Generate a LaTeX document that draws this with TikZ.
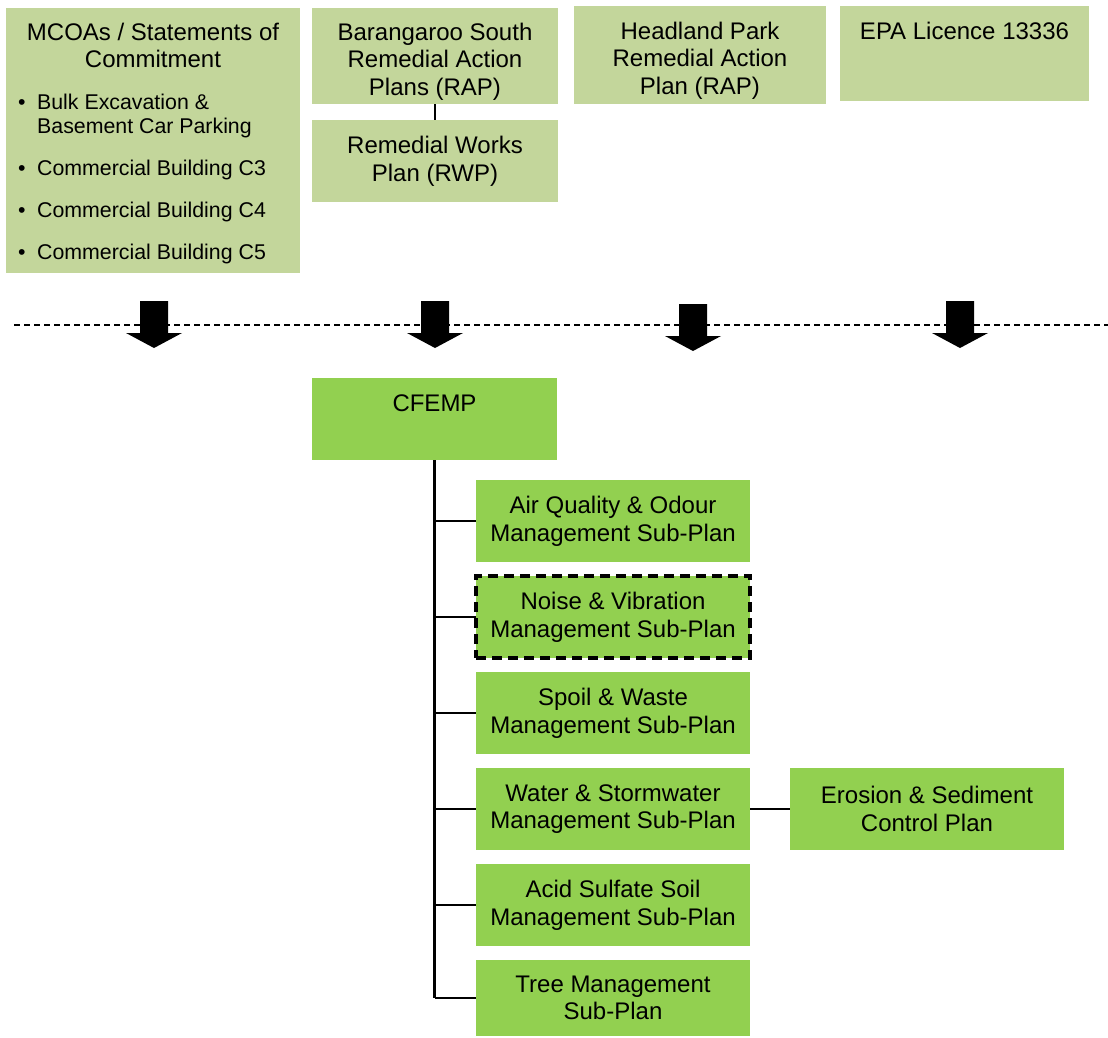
\documentclass[tikz,border=0pt]{standalone}
\usepackage{fontspec}
\setmainfont{Liberation Sans}
\usetikzlibrary{positioning}

\definecolor{topgreen}{RGB}{195,214,155}
\definecolor{plangreen}{RGB}{146,208,80}

\tikzset{
  topbox/.style={fill=topgreen, inner sep=0pt, align=center},
  planbox/.style={fill=plangreen, inner sep=0pt, outer sep=0pt, align=center,
    minimum width=274pt, minimum height=82pt},
  boxtext/.style={anchor=north, inner sep=0pt, align=center},
  link/.style={line width=2pt},
  trunk/.style={line width=3pt},
  sepline/.style={line width=2pt, dash pattern=on 6pt off 4pt},
  dashbox/.style={draw, line width=3.5pt, dash pattern=on 10pt off 6pt},
}

\begin{document}
\begin{tikzpicture}[x=1pt, y=-1pt, font=\fontsize{24}{27.6}\selectfont]
\useasboundingbox (0,0) rectangle (1108,1037);

% source documents
\node[topbox, minimum width=294pt, minimum height=265pt] (mcoa) at (153,140.5) {};
\node[boxtext] (mcoa-title) at (153,22.5) {MCOAs / Statements of\\Commitment};
\node[anchor=base west, inner sep=0pt, font=\fontsize{21.33}{24.5}\selectfont] (mcoa-list) at (18,109)
  {\begin{tabular}[t]{@{}l@{\hspace{11.5pt}}l@{}}
   \textbullet & Bulk Excavation \& \\
               & Basement Car Parking \\[17.5pt]
   \textbullet & Commercial Building C3 \\[17.5pt]
   \textbullet & Commercial Building C4 \\[17.5pt]
   \textbullet & Commercial Building C5
   \end{tabular}};

\node[topbox, minimum width=246pt, minimum height=96pt] (bsrap) at (435,56) {};
\node[boxtext] (bsrap-t) at (435,22.5) {Barangaroo South\\Remedial Action\\Plans (RAP)};
\node[topbox, minimum width=246pt, minimum height=82pt] (rwp) at (435,161) {Remedial Works\\Plan (RWP)};
\draw[link] (bsrap) -- (rwp);

\node[topbox, minimum width=252pt, minimum height=98pt] (hprap) at (700,55) {};
\node[boxtext] (hprap-t) at (700,21.5) {Headland Park\\Remedial Action\\Plan (RAP)};

\node[topbox, minimum width=249pt, minimum height=95pt] (epa) at (964.5,53.5) {};
\node[boxtext] (epa-t) at (964.5,21.5) {EPA Licence 13336};

% boundary and block arrows
\coordinate (sep-l) at (14,325);
\coordinate (sep-r) at (1108,325);
\draw[sepline] (sep-l) -- (sep-r);
\foreach \ax/\ay in {154/301, 435/301, 693/304, 960/301}
  \fill (\ax-14,\ay) -- (\ax+14,\ay) -- (\ax+14,\ay+32) -- (\ax+28,\ay+32)
    -- (\ax,\ay+47) -- (\ax-28,\ay+32) -- (\ax-14,\ay+32) -- cycle;

% CFEMP and sub-plans
\node[planbox, minimum width=245pt] (cfemp) at (434.5,419) {};
\node[boxtext] (cfemp-t) at (434.5,394.5) {CFEMP};

\node[planbox] (air) at (613,521) {Air Quality \& Odour\\Management Sub-Plan};
\node[planbox, dashbox, below=14pt of air] (noise) {Noise \& Vibration\\Management Sub-Plan};
\node[planbox, below=14pt of noise] (spoil) {Spoil \& Waste\\Management Sub-Plan};
\node[planbox, below=14pt of spoil] (water) {Water \& Stormwater\\Management Sub-Plan};
\node[planbox, below=14pt of water] (acid) {Acid Sulfate Soil\\Management Sub-Plan};
\node[planbox, minimum height=76pt, below=14pt of acid] (tree) {Tree Management\\Sub-Plan};
\node[planbox, right=40pt of water] (erosion) {Erosion \& Sediment\\Control Plan};

\draw[trunk] (cfemp.south) -- (cfemp.south |- tree.west);
\foreach \n in {air,noise,spoil,water,acid,tree}
  \draw[link] (cfemp.south |- \n.west) -- (\n.west);
\draw[link] (water.east) -- ++(25,0) |- (erosion.west);
\end{tikzpicture}
\end{document}
